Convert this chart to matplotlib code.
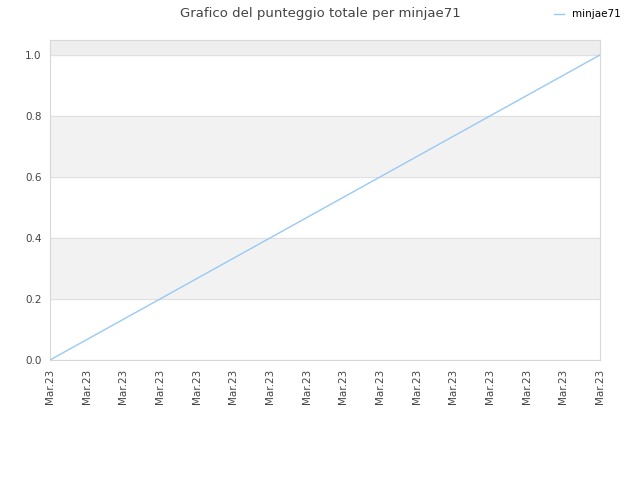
import matplotlib
matplotlib.use('Agg')
import matplotlib.pyplot as plt

# data
tick_labels = ['Mar.23'] * 16
x_points = [0, 15]
scores = [0.0, 1.0]
y_ticks = [0.0, 0.2, 0.4, 0.6, 0.8, 1.0]
series_name = 'minjae71'
title = 'Grafico del punteggio totale per minjae71'

plt.rcParams['font.family'] = ['DejaVu Sans']
fig = plt.figure(figsize=(6.4, 4.8), dpi=100)
ax = fig.add_axes([50 / 640, 120 / 480, 550 / 640, 320 / 480])

# alternating bands
ax.axhspan(0.2, 0.4, color='#f2f2f2', zorder=0)
ax.axhspan(0.6, 0.8, color='#f2f2f2', zorder=0)
ax.axhspan(1.0, 1.05, color='#eeeeee', zorder=0)
for yv in y_ticks:
    ax.axhline(yv, color='#e0e0e0', lw=0.8, zorder=1)

ax.plot(x_points, scores, color='#99c9f5', lw=1, label=series_name, zorder=3)

ax.set_xlim(0, len(tick_labels) - 1)
ax.set_ylim(0, 1.049)
ax.set_xticks(range(len(tick_labels)))
ax.set_xticklabels(tick_labels, rotation=90, fontsize=7.5, color='#444444')
ax.set_yticks(y_ticks)
ax.set_yticklabels([f'{v:.1f}' for v in y_ticks], fontsize=7.5, color='#444444')
ax.tick_params(length=0, pad=6)
for s in ax.spines.values():
    s.set_color('#d8d8d8')
    s.set_linewidth(0.8)

fig.text(0.5, 0.985, title, ha='center', va='top', fontsize=9.5, color='#444444')
fig.legend(loc='upper right', bbox_to_anchor=(0.985, 1.0), frameon=False,
           fontsize=7.5, handlelength=1.0)

fig.savefig('out.png', dpi=100)
plt.close(fig)
